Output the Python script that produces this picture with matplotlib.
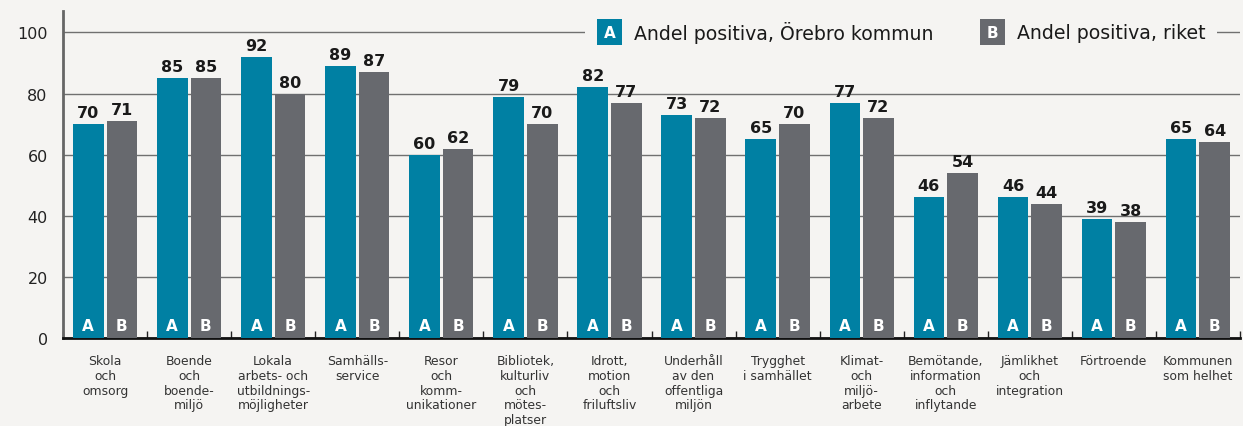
import matplotlib
matplotlib.use("Agg")
import matplotlib.pyplot as plt
from matplotlib.patches import Rectangle
import numpy as np

categories = ["Skola\noch\nomsorg", "Boende\noch\nboende-\nmiljö",
              "Lokala\narbets- och\nutbildnings-\nmöjligheter", "Samhälls-\nservice",
              "Resor\noch\nkomm-\nunikationer", "Bibliotek,\nkulturliv\noch\nmötes-\nplatser",
              "Idrott,\nmotion\noch\nfriluftsliv", "Underhåll\nav den\noffentliga\nmiljön",
              "Trygghet\ni samhället", "Klimat-\noch\nmiljö-\narbete",
              "Bemötande,\ninformation\noch\ninflytande", "Jämlikhet\noch\nintegration",
              "Förtroende", "Kommunen\nsom helhet"]
orebro = [70, 85, 92, 89, 60, 79, 82, 73, 65, 77, 46, 46, 39, 65]
riket = [71, 85, 80, 87, 62, 70, 77, 72, 70, 72, 54, 44, 38, 64]
series_names = ["Andel positiva, Örebro kommun", "Andel positiva, riket"]
series_letters = ["A", "B"]
yticks = [0, 20, 40, 60, 80, 100]

bg = "#f5f4f2"
teal = "#0080a3"
grey = "#67696e"

fig = plt.figure(figsize=(12.43, 4.27), dpi=100, facecolor=bg)
ax = fig.add_axes([63/1243, 88/427, 1177/1243, 327/427])
ax.set_facecolor(bg)

x = np.arange(len(categories))
w = 0.365
off = 0.2
for vals, col, sgn, let in [(orebro, teal, -1, series_letters[0]), (riket, grey, 1, series_letters[1])]:
    ax.bar(x + sgn*off, vals, width=w, color=col, zorder=3)
    for xi, v in zip(x + sgn*off, vals):
        ax.text(xi, v + 1.3, str(v), ha="center", va="bottom", fontsize=11.5,
                fontweight="bold", color="#1a1a1a", zorder=4)
        ax.text(xi, 4.0, let, ha="center", va="center", fontsize=11,
                fontweight="bold", color="white", zorder=4)

ax.set_xlim(-0.5, len(categories) - 0.5)
ax.set_ylim(0, 107)
ax.set_yticks(yticks)
ax.tick_params(axis="y", length=0, pad=11, labelsize=11.5, labelcolor="#222222")
ax.yaxis.grid(True, color="#707070", linewidth=1.0, zorder=0)
ax.set_axisbelow(True)

ax.set_xticks(np.arange(len(categories) + 1) - 0.5)
ax.set_xticklabels([])
ax.tick_params(axis="x", direction="in", length=5, width=1, color="#222222")
for xi, lab in zip(x, categories):
    ax.text(xi, -5.3, lab, ha="center", va="top", fontsize=8.9, color="#333333",
            linespacing=1.17, clip_on=False)

for s in ["top", "right"]:
    ax.spines[s].set_visible(False)
ax.spines["bottom"].set_color("#111111")
ax.spines["bottom"].set_linewidth(2)
ax.spines["left"].set_color("#666666")
ax.spines["left"].set_linewidth(2)

# legend sitting on the 100 line
def fx(px):
    return (px - 63) / 1177

yc = 100
ax.add_patch(Rectangle((fx(585), 0.87), fx(1217) - fx(585), 0.12, transform=ax.transAxes,
                       facecolor=bg, edgecolor="none", zorder=2))
sq_h = 26 / 327 * 107
for px, col, let, name in [(597, teal, series_letters[0], series_names[0]),
                           (980, grey, series_letters[1], series_names[1])]:
    ax.add_patch(Rectangle((fx(px), yc - sq_h/2), 25/1177, sq_h,
                           transform=ax.get_yaxis_transform(), facecolor=col,
                           edgecolor="none", zorder=4))
    ax.text(fx(px + 12.5), yc, let, transform=ax.get_yaxis_transform(), ha="center",
            va="center", fontsize=11, fontweight="bold", color="white", zorder=5)
    ax.text(fx(px + 37), yc, name, transform=ax.get_yaxis_transform(), ha="left",
            va="center", fontsize=13.6, color="#1a1a1a", zorder=5)

fig.savefig("out.png", dpi=100, facecolor=bg)
